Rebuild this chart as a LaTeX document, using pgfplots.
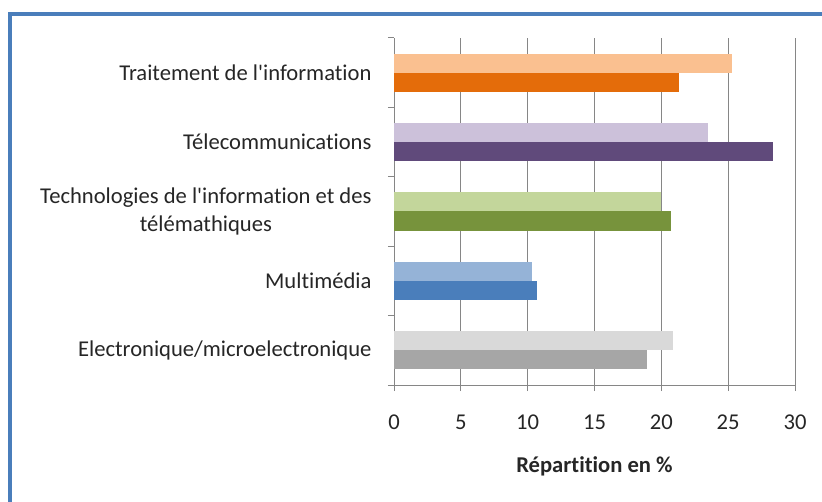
\documentclass[border=0pt]{standalone}
\usepackage{fontspec}
\setmainfont{Carlito}[Ligatures={NoCommon}]
\usepackage{pgfplots}
\pgfplotsset{compat=1.18}
\definecolor{framecol}{HTML}{4A7EBB}
\definecolor{gridgray}{HTML}{868686}
\definecolor{txt}{HTML}{262626}
\definecolor{aL}{HTML}{FAC090}\definecolor{aD}{HTML}{E46C0A}
\definecolor{bL}{HTML}{CCC1DA}\definecolor{bD}{HTML}{604A7B}
\definecolor{cL}{HTML}{C3D69B}\definecolor{cD}{HTML}{77933C}
\definecolor{dL}{HTML}{95B3D7}\definecolor{dD}{HTML}{4A7EBB}
\definecolor{eL}{HTML}{D9D9D9}\definecolor{eD}{HTML}{A6A6A6}
\begin{document}
\begin{tikzpicture}
\useasboundingbox (0,0) rectangle (822bp,502bp);
\fill[white] (0,0) rectangle (822bp,502bp);
\draw[line width=4bp, framecol] (10bp,0) -- (10bp,488bp) -- (822bp,488bp);
\begin{axis}[
  at={(394bp,117bp)}, anchor=south west,
  scale only axis, width=401bp, height=347bp,
  xmin=0, xmax=30, ymin=-0.5, ymax=4.5,
  axis x line*=bottom, axis y line*=left,
  axis line style={gridgray, line width=1bp},
  xtick={0,5,...,30},
  xmajorgrids, grid style={gridgray, line width=1bp},
  tick align=outside,
  major tick length=6bp,
  tick style={gridgray, line width=1bp},
  ytick={-0.5,0.5,...,4.5}, yticklabels={},
  extra y ticks={0,1,2,3,4},
  extra y tick labels={Electronique/microelectronique, Multimédia, {Technologies de l\textquotesingle information et des\\télémathiques}, Télecommunications, Traitement de l\textquotesingle information},
  extra y tick style={major tick length=0pt, yticklabel style={align=center, xshift=-19bp}},
  yticklabel style={font=\fontsize{22.6bp}{28.5bp}\selectfont, text=txt},
  xticklabel style={font=\fontsize{22.6bp}{26bp}\selectfont, text=txt, anchor=center, yshift=-31bp},
  /pgf/number format/assume math mode=true,
  xlabel={\textbf{Répartition en \%}},
  xlabel style={font=\fontsize{22.6bp}{26bp}\selectfont, text=txt, at={(axis description cs:0.5,0)}, anchor=center, yshift=-81bp},
  xbar, bar width=19bp,
]
\addplot[xbar, bar shift=9.5bp, fill=eL, draw=none] coordinates {(20.9,0)};
\addplot[xbar, bar shift=-9.5bp, fill=eD, draw=none] coordinates {(18.9,0)};
\addplot[xbar, bar shift=9.5bp, fill=dL, draw=none] coordinates {(10.3,1)};
\addplot[xbar, bar shift=-9.5bp, fill=dD, draw=none] coordinates {(10.7,1)};
\addplot[xbar, bar shift=9.5bp, fill=cL, draw=none] coordinates {(20.0,2)};
\addplot[xbar, bar shift=-9.5bp, fill=cD, draw=none] coordinates {(20.7,2)};
\addplot[xbar, bar shift=9.5bp, fill=bL, draw=none] coordinates {(23.5,3)};
\addplot[xbar, bar shift=-9.5bp, fill=bD, draw=none] coordinates {(28.35,3)};
\addplot[xbar, bar shift=9.5bp, fill=aL, draw=none] coordinates {(25.3,4)};
\addplot[xbar, bar shift=-9.5bp, fill=aD, draw=none] coordinates {(21.3,4)};
\end{axis}
\end{tikzpicture}
\end{document}
